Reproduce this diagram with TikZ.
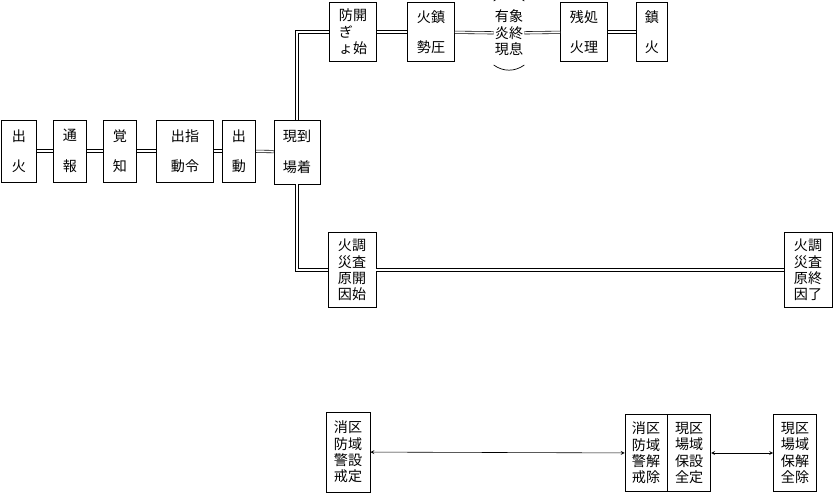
\documentclass[tikz,border=0pt]{standalone}
\usepackage{fontspec}
\setmainfont{Noto Sans CJK JP}
\usepackage{tikz}
\usetikzlibrary{positioning}
\tikzset{Box/.style={%
    shape=rectangle,%
    draw=black,%
    line width=0.6pt,%
    align=center,%
    inner sep=0pt,%
    font=\fontsize{12}{14}\selectfont,%
}}
\tikzset{DoubleEdge/.style={%
    double=white,%
    double distance=1.6pt,%
    line width=0.5pt,%
}}
\tikzset{ArrowEdge/.style={%
    <->,%
    >=stealth,%
    line width=0.5pt,%
}}

\begin{document}
\begin{tikzpicture}[x=0.03cm,y=-0.03cm]
    \useasboundingbox (0,0) rectangle (834,496);
    % first row
    \node[Box, minimum width=1.05cm, minimum height=1.86cm] (shukka) at (19,151) {出\\[12pt]火};
    \node[Box, minimum width=1.0cm, minimum height=1.86cm] (tsuho) at (70,151) {通\\[12pt]報};
    \node[Box, minimum width=1.0cm, minimum height=1.86cm] (kakuchi) at (120,151) {覚\\[12pt]知};
    \node[Box, minimum width=1.7cm, minimum height=1.86cm] (shirei) at (185,151) {出指\\[12pt]動令};
    \node[Box, minimum width=1.0cm, minimum height=1.86cm] (shutsudo) at (239,151) {出\\[12pt]動};
    \node[Box, minimum width=1.38cm, minimum height=1.92cm] (genba) at (297,152) {現到\\[12pt]場着};

    % top branch
    \node[Box, minimum width=1.41cm, minimum height=1.77cm] (bougyo) at (353,32) {防開\\ぎ\phantom{始}\\ょ始};
    \node[Box, minimum width=1.41cm, minimum height=1.77cm] (chinatsu) at (431,32) {火鎮\\[12pt]勢圧};
    \node[Box, draw=none, minimum width=0.9cm, minimum height=1.9cm] (shusoku) at (509,33) {有象\\炎終\\現息};
    \node[Box, minimum width=1.41cm, minimum height=1.77cm] (zanka) at (584,32) {残処\\[12pt]火理};
    \node[Box, minimum width=0.93cm, minimum height=1.77cm] (chinka) at (652,32) {鎮\\[12pt]火};

    % cause investigation
    \node[Box, minimum width=1.44cm, minimum height=2.25cm] (chosaS) at (352,270) {火調\\災査\\原開\\因始};
    \node[Box, minimum width=1.44cm, minimum height=2.25cm] (chosaE) at (808,270) {火調\\災査\\原終\\因了};

    % bottom row
    \node[Box, minimum width=1.32cm, minimum height=2.4cm] (keikai) at (348,452) {消区\\防域\\警設\\戒定};
    \node[Box, minimum width=1.26cm, minimum height=2.31cm] (kaijo) at (646,453) {消区\\防域\\警解\\戒除};
    \node[Box, minimum width=1.29cm, minimum height=2.31cm, right=0pt of kaijo] (hozen) {現区\\場域\\保設\\全定};
    \node[Box, minimum width=1.29cm, minimum height=2.31cm] (hozenE) at (795,453) {現区\\場域\\保解\\全除};

    \draw[DoubleEdge] (shukka) -- (tsuho);
    \draw[DoubleEdge] (tsuho) -- (kakuchi);
    \draw[DoubleEdge] (kakuchi) -- (shirei);
    \draw[DoubleEdge] (shirei) -- (shutsudo);
    \draw[DoubleEdge] (shutsudo) -- (genba);
    \draw[DoubleEdge] (genba.north) |- (bougyo.west);
    \draw[DoubleEdge] (genba.south) |- (chosaS.west);
    \draw[DoubleEdge] (bougyo) -- (chinatsu);
    \draw[DoubleEdge] (chinatsu) -- (shusoku);
    \draw[DoubleEdge] (shusoku) -- (zanka);
    \draw[DoubleEdge] (zanka) -- (chinka);
    \draw[DoubleEdge] (chosaS) -- (chosaE);
    \draw[line width=0.6pt] (shusoku.north west) to[bend left=35] (shusoku.north east);
    \draw[line width=0.6pt] (shusoku.south west) to[bend right=35] (shusoku.south east);

    \draw[ArrowEdge] (keikai) -- (kaijo);
    \draw[ArrowEdge] (hozen) -- (hozenE);
\end{tikzpicture}
\end{document}
